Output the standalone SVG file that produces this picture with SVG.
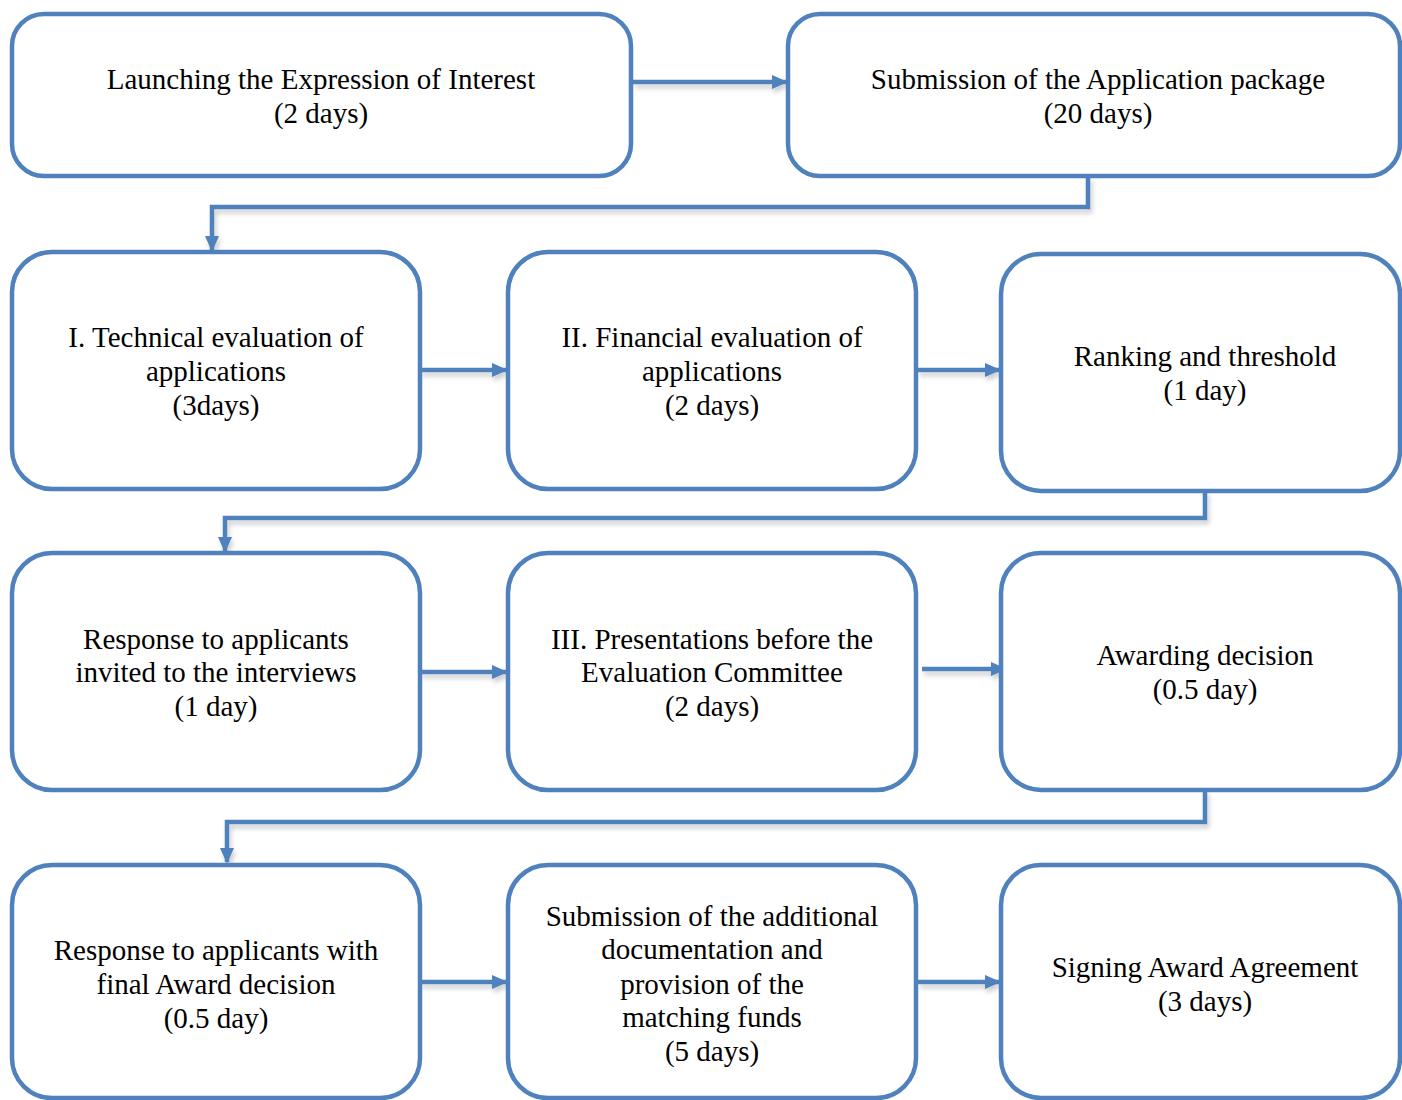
<svg xmlns="http://www.w3.org/2000/svg" width="1402" height="1100" viewBox="0 0 1402 1100">
<style>
.box{fill:#fff;stroke:#4F81BD;stroke-width:4.5}
.t{font-family:"Liberation Serif","Times New Roman",serif;font-size:29px;fill:#000;text-anchor:middle}
.c{fill:none;stroke:#4F81BD;stroke-width:4.5;marker-end:url(#ah)}
</style>
<defs>
<marker id="ah" markerWidth="3.6" markerHeight="3.2" refX="3.2" refY="1.6" orient="auto" markerUnits="strokeWidth">
<path d="M0,0 L3.6,1.6 L0,3.2 z" fill="#4F81BD"/>
</marker>
<filter id="sh" x="-5%" y="-50%" width="110%" height="300%">
<feGaussianBlur in="SourceAlpha" stdDeviation="2.5"/>
<feOffset dx="2" dy="4" result="b"/>
<feComponentTransfer><feFuncA type="linear" slope="0.2"/></feComponentTransfer>
<feMerge><feMergeNode/><feMergeNode in="SourceGraphic"/></feMerge>
</filter>
</defs>
<rect width="1402" height="1100" fill="#fff"/>
<g id="connectors" filter="url(#sh)">
<path class="c" d="M633,82 H786"/>
<path class="c" d="M1088,176 V207 H212 V250"/>
<path class="c" d="M420,370 H506"/>
<path class="c" d="M918,370 H999"/>
<path class="c" d="M1205,491 V518 H225 V551"/>
<path class="c" d="M420,672 H506"/>
<path class="c" d="M922,669 H1005"/>
<path class="c" d="M1205,790 V822 H227 V862"/>
<path class="c" d="M420,982 H506"/>
<path class="c" d="M918,982 H999"/>
</g>
<g id="n1"><rect class="box" x="12" y="14" width="619" height="162" rx="32"/>
<text class="t" x="321" y="89">Launching the Expression of Interest</text><text class="t" x="321" y="123">(2 days)</text></g>
<g id="n2"><rect class="box" x="788" y="14" width="612" height="162" rx="32"/>
<text class="t" x="1098" y="89">Submission of the Application package</text><text class="t" x="1098" y="123">(20 days)</text></g>
<g id="n3"><rect class="box" x="12" y="252" width="408" height="237" rx="40"/>
<text class="t" x="216" y="347">I. Technical evaluation of</text><text class="t" x="216" y="381">applications</text><text class="t" x="216" y="415">(3days)</text></g>
<g id="n4"><rect class="box" x="508" y="252" width="408" height="237" rx="40"/>
<text class="t" x="712" y="347">II. Financial evaluation of</text><text class="t" x="712" y="381">applications</text><text class="t" x="712" y="415">(2 days)</text></g>
<g id="n5"><rect class="box" x="1001" y="254" width="399" height="237" rx="40"/>
<text class="t" x="1205" y="366">Ranking and threshold</text><text class="t" x="1205" y="400">(1 day)</text></g>
<g id="n6"><rect class="box" x="12" y="553" width="408" height="237" rx="40"/>
<text class="t" x="216" y="649">Response to applicants</text><text class="t" x="216" y="682">invited to the interviews</text><text class="t" x="216" y="716">(1 day)</text></g>
<g id="n7"><rect class="box" x="508" y="553" width="408" height="237" rx="40"/>
<text class="t" x="712" y="649">III. Presentations before the</text><text class="t" x="712" y="682">Evaluation Committee</text><text class="t" x="712" y="716">(2 days)</text></g>
<g id="n8"><rect class="box" x="1001" y="553" width="399" height="237" rx="40"/>
<text class="t" x="1205" y="665">Awarding decision</text><text class="t" x="1205" y="699">(0.5 day)</text></g>
<g id="n9"><rect class="box" x="12" y="865" width="408" height="233" rx="40"/>
<text class="t" x="216" y="960">Response to applicants with</text><text class="t" x="216" y="994">final Award decision</text><text class="t" x="216" y="1028">(0.5 day)</text></g>
<g id="n10"><rect class="box" x="508" y="865" width="408" height="233" rx="40"/>
<text class="t" x="712" y="926">Submission of the additional</text><text class="t" x="712" y="959">documentation and</text><text class="t" x="712" y="994">provision of the</text><text class="t" x="712" y="1027">matching funds</text><text class="t" x="712" y="1061">(5 days)</text></g>
<g id="n11"><rect class="box" x="1001" y="865" width="399" height="233" rx="40"/>
<text class="t" x="1205" y="977">Signing Award Agreement</text><text class="t" x="1205" y="1011">(3 days)</text></g>
</svg>
